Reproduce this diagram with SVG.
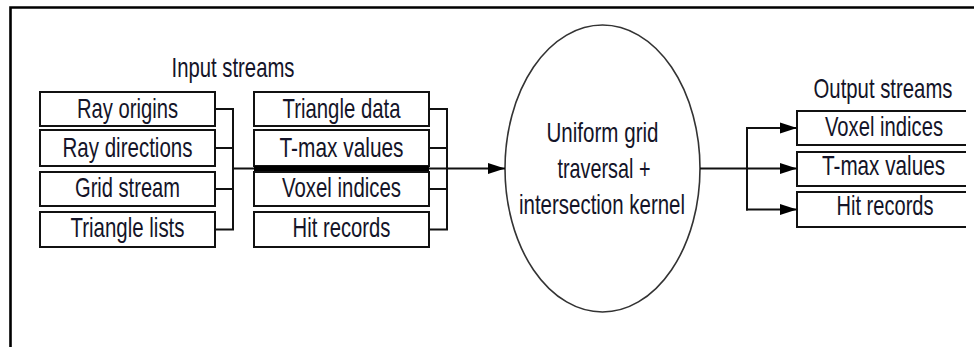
<svg xmlns="http://www.w3.org/2000/svg" width="974" height="347" viewBox="0 0 974 347">
<defs>
<style>
.box{fill:#fff;stroke:#111;stroke-width:2}
.t{font-family:"Liberation Sans",Arial,sans-serif;font-size:27px;fill:#141428;text-anchor:middle}
.ln{fill:none;stroke:#111;stroke-width:2}
.frame{fill:none;stroke:#000;stroke-width:2.6}
</style>
<marker id="ah" markerUnits="userSpaceOnUse" markerWidth="18" markerHeight="12" refX="17" refY="6" orient="auto">
<path d="M0,0.5 L17,6 L0,11.5 z" fill="#000"/>
</marker>
</defs>
<rect width="974" height="347" fill="#fff"/>
<path class="frame" d="M10.5,347 V7.5 H974"/>

<g id="title-input"><text class="t" transform="translate(233,77) scale(0.78,1)" textLength="157.7" lengthAdjust="spacingAndGlyphs">Input streams</text></g>
<g id="title-output"><text class="t" transform="translate(883,98) scale(0.78,1)" textLength="178.2" lengthAdjust="spacingAndGlyphs">Output streams</text></g>

<g id="ray-origins"><rect class="box" x="40" y="92" width="175" height="34"/><text class="t" transform="translate(127.5,118.3) scale(0.78,1)" textLength="129.5" lengthAdjust="spacingAndGlyphs">Ray origins</text></g>
<g id="ray-directions"><rect class="box" x="40" y="130" width="175" height="36"/><text class="t" transform="translate(127.5,156.7) scale(0.78,1)" textLength="166.7" lengthAdjust="spacingAndGlyphs">Ray directions</text></g>
<g id="grid-stream"><rect class="box" x="40" y="172" width="175" height="34"/><text class="t" transform="translate(127.5,196.7) scale(0.78,1)" textLength="134.6" lengthAdjust="spacingAndGlyphs">Grid stream</text></g>
<g id="triangle-lists"><rect class="box" x="40" y="212" width="175" height="35"/><text class="t" transform="translate(127.5,236.7) scale(0.78,1)" textLength="146.2" lengthAdjust="spacingAndGlyphs">Triangle lists</text></g>

<g id="triangle-data"><rect class="box" x="254" y="92" width="175" height="34"/><text class="t" transform="translate(341.5,118.3) scale(0.78,1)" textLength="151.3" lengthAdjust="spacingAndGlyphs">Triangle data</text></g>
<g id="tmax-in"><rect class="box" x="254" y="130" width="175" height="36"/><text class="t" transform="translate(341.5,156.7) scale(0.78,1)" textLength="159" lengthAdjust="spacingAndGlyphs">T-max values</text></g>
<g id="voxel-in"><rect class="box" x="254" y="172" width="175" height="34"/><text class="t" transform="translate(341.5,196.7) scale(0.78,1)" textLength="152.6" lengthAdjust="spacingAndGlyphs">Voxel indices</text></g>
<g id="hit-in"><rect class="box" x="254" y="212" width="175" height="35"/><text class="t" transform="translate(341.5,236.7) scale(0.78,1)" textLength="125.6" lengthAdjust="spacingAndGlyphs">Hit records</text></g>

<g id="kernel">
<ellipse cx="602.5" cy="168.5" rx="97.5" ry="143.5" fill="#fff" stroke="#333" stroke-width="1.6"/>
<text class="t" transform="translate(602.5,141.7) scale(0.78,1)" textLength="143.6" lengthAdjust="spacingAndGlyphs">Uniform grid</text>
<text class="t" transform="translate(604,178) scale(0.78,1)" textLength="119.2" lengthAdjust="spacingAndGlyphs">traversal +</text>
<text class="t" transform="translate(602,214) scale(0.78,1)" textLength="212.8" lengthAdjust="spacingAndGlyphs">intersection kernel</text>
</g>

<g id="voxel-out"><path class="box" d="M966,111 H797 V145 H966"/><text class="t" transform="translate(884,136) scale(0.78,1)" textLength="151.3" lengthAdjust="spacingAndGlyphs">Voxel indices</text></g>
<g id="tmax-out"><path class="box" d="M966,152 H797 V186 H966"/><text class="t" transform="translate(883.5,175) scale(0.78,1)" textLength="157.7" lengthAdjust="spacingAndGlyphs">T-max values</text></g>
<g id="hit-out"><path class="box" d="M966,192 H797 V227 H966"/><text class="t" transform="translate(885,215) scale(0.78,1)" textLength="124.4" lengthAdjust="spacingAndGlyphs">Hit records</text></g>

<g id="connectors">
<path class="ln" d="M215,109 H233 M215,148 H233 M215,189 H233 M215,229.5 H233 M233,108 V230.5 M233,168.5 H254"/>
<rect x="254" y="166" width="175" height="5" fill="#000"/>
<path class="ln" d="M429,109 H447 M429,148 H447 M429,189 H447 M429,229.5 H447 M447,108 V230.5"/>
<path class="ln" d="M429,168.5 H505" marker-end="url(#ah)"/>
<path class="ln" d="M700,168.5 H797" marker-end="url(#ah)"/>
<path class="ln" d="M747,127 V210.5"/>
<path class="ln" d="M746,128 H797" marker-end="url(#ah)"/>
<path class="ln" d="M746,209.5 H797" marker-end="url(#ah)"/>
</g>
</svg>
